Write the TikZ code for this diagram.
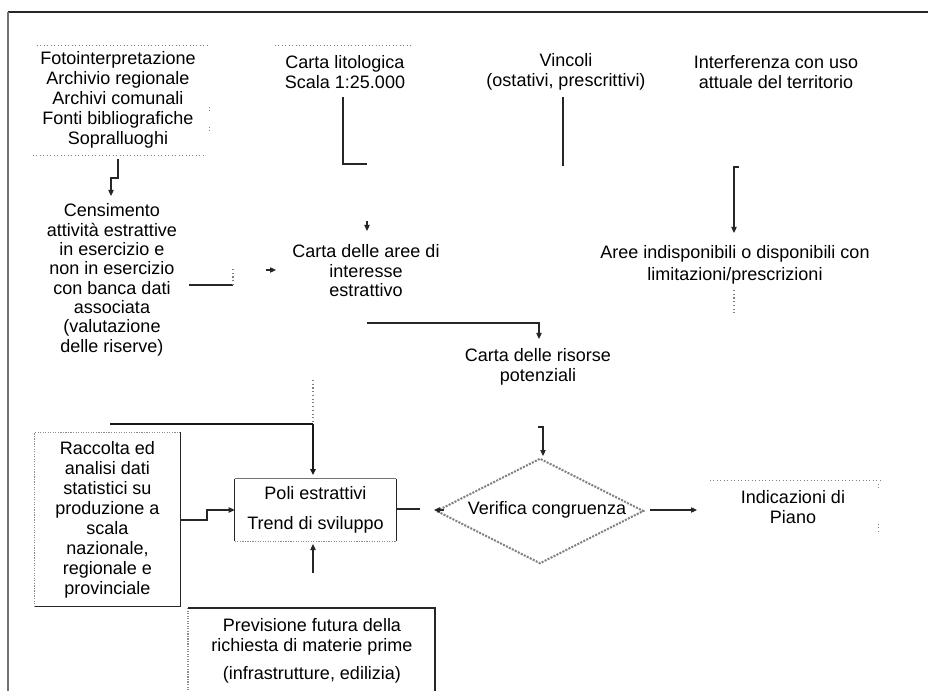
\documentclass[tikz,border=0pt]{standalone}
\usepackage{fontspec}
\setmainfont{Liberation Sans}
\usetikzlibrary{arrows.meta,shapes.geometric}
\begin{document}
\begin{tikzpicture}[x=0.75pt,y=-0.75pt,
  txt/.style={align=center,inner sep=0pt,font=\fontsize{13.5}{15}\selectfont},
  ln/.style={draw=black!85,line width=0.8pt},
  thk/.style={draw=black!90,line width=1.5pt},
  tip/.style={-{Triangle[length=4.5pt,width=4pt]}},
  dots/.style={draw=black!50,dotted,line width=0.6pt},
  gray edge/.style={draw=black!45,densely dotted,line width=0.9pt},
  dark edge/.style={draw=black!85,line width=1pt},
]
\useasboundingbox (0,0) rectangle (928,691);
\fill[white] (0,0) rectangle (928,691);
% frame
\draw[draw=black!85,line width=1.9pt] (8,12) -- (928,12);
\draw[draw=black!55,line width=1pt] (8,12) -- (8,691);

% ---------- text nodes ----------
\node[txt] (fonti) at (118,100) {Fotointerpretazione\\Archivio regionale\\Archivi comunali\\Fonti bibliografiche\\Sopralluoghi};
\node[txt] (lito) at (345,72) {Carta litologica\\Scala 1:25.000};
\node[txt] (vinc) at (566,72) {Vincoli\\(ostativi, prescrittivi)};
\node[txt] (interf) at (776,72) {Interferenza con uso\\attuale del territorio};
\node[txt,font=\fontsize{13.5}{14.5}\selectfont] (cens) at (112,280) {Censimento\\attività estrattive\\in esercizio e\\non in esercizio\\con banca dati\\associata\\(valutazione\\delle riserve)};
\node[txt,font=\fontsize{13.5}{14.6}\selectfont] (aree) at (366,271) {Carta delle aree di\\interesse\\estrattivo};
\node[txt,font=\fontsize{13.5}{16.5}\selectfont] (indisp) at (735,265) {Aree indisponibili o disponibili con\\limitazioni/prescrizioni};
\node[txt] (risorse) at (538,367) {Carta delle risorse\\potenziali};
\node[txt,minimum width=108.75pt,minimum height=130.5pt] (racc) at (107.5,519.5) {Raccolta ed\\analisi dati\\statistici su\\produzione a\\scala\\nazionale,\\regionale e\\provinciale};
\node[txt,font=\fontsize{13.5}{22.5}\selectfont,minimum width=120.75pt,minimum height=46.5pt] (poli) at (315.5,510) {Poli estrattivi\\Trend di sviluppo};
\node[txt] (prev) at (312,651) {Previsione futura della\\richiesta di materie prime\\[6pt](infrastrutture, edilizia)};
\node[shape=diamond,draw=none,inner sep=0pt,minimum width=154.5pt,minimum height=78pt] (dia) at (540,511) {};
\node[txt] (verif) at (547,510) {Verifica congruenza};
\node[txt] (indic) at (793,507.5) {Indicazioni di\\Piano};

% ---------- box outlines ----------
% Fonti (dotted rules)
\draw[dots] (37,45) -- (210,45);
\draw[dots] (33,155) -- (206,155);
\draw[dots] (209,107) -- (209,112);
\draw[dots] (209,127) -- (209,132);
% Carta litologica
\draw[dots] (275,45) -- (412,45);
% Raccolta
\draw[gray edge] (racc.south west) -- (racc.north west) -- (racc.north east);
\draw[dark edge] (racc.north east) -- (racc.south east) -- (racc.south west);
% Poli
\draw[draw=black!55,line width=0.8pt] (poli.north west) -- (poli.north east);
\draw[gray edge] (poli.south west) -- (poli.south east);
\draw[dark edge] (poli.north west) -- (poli.south west);
\draw[dark edge] (poli.north east) -- (poli.south east);
% Previsione
\coordinate (pvnw) at (188,608);
\coordinate (pvne) at (435,608);
\coordinate (pvsw) at (188,691);
\coordinate (pvse) at (435,691);
\draw[gray edge] (pvnw) -- (pvsw);
\draw[dark edge] (pvnw) -- (pvne) -- (pvse);
% Diamond
\draw[draw=black!50,densely dotted,line width=1.5pt] (dia.west) -- (dia.north) -- (dia.east) -- (dia.south) -- cycle;
% Indicazioni
\draw[dots] (710,480) -- (880,480);
\draw[dots] (878,484) -- (878,489);
\draw[dots] (878,524) -- (878,532);

% ---------- connectors ----------
% Fonti -> Censimento
\coordinate (f1) at (118,159);
\coordinate (f2) at (118,178);
\coordinate (f3) at (111,178);
\coordinate (f4) at (111,196);
\draw[ln,tip] (f1) -- (f2) -- (f3) -- (f4);
% Carta litologica -> Carta aree
\coordinate (l1) at (343,97);
\coordinate (l2) at (343,164);
\coordinate (l3) at (367,164);
\coordinate (l4) at (367,221);
\coordinate (l5) at (367,231);
\draw[ln] (l1) -- (l2) -- (l3);
\draw[ln,tip] (l4) -- (l5);
% Vincoli
\coordinate (v1) at (563,97);
\coordinate (v2) at (563,166);
\draw[ln] (v1) -- (v2);
% Interferenza -> Aree indisponibili
\coordinate (i0) at (739,167);
\coordinate (i1) at (734,167);
\coordinate (i2) at (734,233);
\draw[ln,tip] (i0) -- (i1) -- (i2);
\coordinate (i3) at (734,290);
\coordinate (i4) at (734,313);
\draw[dots,line width=0.8pt] (i3) -- (i4);
% Censimento -> Carta aree
\coordinate (c1) at (189,285);
\coordinate (c2) at (233,285);
\coordinate (c3) at (233,269);
\coordinate (c4) at (266,270);
\coordinate (c5) at (276,270);
\draw[ln] (c1) -- (c2);
\draw[dots,line width=0.8pt] (c2) -- (c3);
\draw[ln,tip] (c4) -- (c5);
% Carta aree -> Carta risorse
\coordinate (a1) at (367,323);
\coordinate (a2) at (539,323);
\coordinate (a3) at (539,339);
\draw[ln,tip] (a1) -- (a2) -- (a3);
% vertical into Poli
\coordinate (p0) at (313,380);
\coordinate (p1) at (313,424);
\coordinate (p2) at (110,424);
\coordinate (p3) at (313,475);
\draw[dots,line width=0.8pt] (p0) -- (p1);
\draw[thk] (p2) -- (p1);
\draw[thk,tip] (p1) -- (p3);
% Raccolta -> Poli
\coordinate (r1) at (207,520);
\coordinate (r2) at (207,510);
\draw[ln,tip] (racc.east |- 0,520) -- (r1) -- (r2) -- (poli.west |- 0,510);
% Previsione -> Poli
\coordinate (q1) at (313,573);
\coordinate (q2) at (313,544);
\draw[ln,tip] (q1) -- (q2);
% Poli <-> Verifica
\coordinate (d1) at (420,509);
\coordinate (d2) at (444,510);
\coordinate (d3) at (434,510);
\draw[ln] (poli.east |- 0,509) -- (d1);
\draw[ln,tip] (d2) -- (d3);
% Carta risorse -> Verifica
\coordinate (s0) at (538,427);
\coordinate (s1) at (543,427);
\coordinate (s2) at (543,456);
\draw[ln,tip] (s0) -- (s1) -- (s2);
% Verifica -> Indicazioni
\coordinate (e1) at (650,510);
\coordinate (e2) at (697,510);
\draw[ln,tip] (e1) -- (e2);
\end{tikzpicture}
\end{document}
